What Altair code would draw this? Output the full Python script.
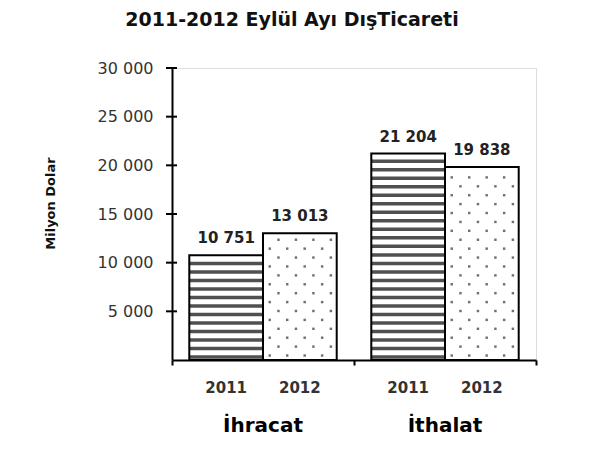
import altair as alt
import pandas as pd

title_text = "2011-2012 Eylül Ayı  DışTicareti"
groups = ["İhracat", "İthalat"]
years = ["2011", "2012"]
values_2011 = [10751, 21204]
values_2012 = [13013, 19838]
y_ticks = [5000, 10000, 15000, 20000, 25000, 30000]
y_title = "Milyon Dolar"

rows = []
for gi, g in enumerate(groups):
    for yr, vals in zip(years, [values_2011, values_2012]):
        rows.append({"group": g, "gi": gi, "year": yr, "value": vals[gi]})
bars_df = pd.DataFrame(rows)
groups_df = pd.DataFrame({"group": groups, "gi": list(range(len(groups)))})
ticks_df = pd.DataFrame({"t": y_ticks})

BW = 0.81
FONT = "DejaVu Sans"
xscale = alt.Scale(domain=[0, 2 * len(groups)], nice=False, zero=False)
yscale = alt.Scale(domain=[0, 30000], nice=False)

base = alt.Chart(bars_df).transform_calculate(
    x0=f"2*datum.gi + 1 + (datum.year == '{years[0]}' ? -{BW} : 0)"
).transform_calculate(
    x1=f"datum.x0 + {BW}",
    xc=f"datum.x0 + {BW}/2",
    label="replace(format(datum.value, ','), ',', ' ')",
)

y_axis = alt.Axis(
    values=y_ticks,
    labelExpr="replace(format(datum.value, ','), ',', ' ')",
    ticks=False, labelPadding=19, labelFontSize=16, labelColor="#333",
    labelFont=FONT, domainColor="black", domainWidth=2, grid=False,
    title=y_title, titleX=-122, titleY=135, titleAngle=270,
    titleAlign="center", titleBaseline="middle", titleFontSize=13,
    titleFontWeight="bold", titleFont=FONT, titleColor="#111",
)
x_axis = alt.Axis(
    values=[0, 2, 4], labels=False, title=None, tickSize=5, tickWidth=2,
    tickColor="black", domainColor="black", domainWidth=2, grid=False,
)

fill = base.mark_rect(fill="white").encode(
    x=alt.X("x0:Q", scale=xscale, axis=x_axis),
    x2="x1:Q",
    y=alt.Y("value:Q", scale=yscale, axis=y_axis),
    y2=alt.datum(0),
)

stripes = base.transform_filter(f"datum.year == '{years[0]}'").transform_calculate(
    ys="sequence(300, datum.value - 250, 875)"
).transform_flatten(["ys"]).mark_rule(color="#505050", strokeWidth=3.5).encode(
    x=alt.X("x0:Q", scale=xscale), x2="x1:Q", y=alt.Y("ys:Q", scale=yscale)
)

dots = base.transform_filter(f"datum.year == '{years[1]}'").transform_calculate(
    ry="sequence(460, datum.value - 300, 915)"
).transform_flatten(["ry"]).transform_calculate(
    par="floor(datum.ry / 915) % 2"
).transform_calculate(
    cols="datum.par == 0 ? sequence(0.074, 0.8, 0.192) : sequence(0.17, 0.8, 0.192)"
).transform_flatten(["cols"]).transform_calculate(
    xd="datum.x0 + datum.cols"
).mark_square(size=6, color="#707070", opacity=1).encode(
    x=alt.X("xd:Q", scale=xscale), y=alt.Y("ry:Q", scale=yscale)
)

outline = base.mark_rect(fillOpacity=0, stroke="black", strokeWidth=2).encode(
    x=alt.X("x0:Q", scale=xscale), x2="x1:Q",
    y=alt.Y("value:Q", scale=yscale), y2=alt.datum(0),
)

vlabels = base.mark_text(
    baseline="bottom", dy=-9, fontSize=15, fontWeight="bold", color="#222", font=FONT
).encode(x=alt.X("xc:Q", scale=xscale), y=alt.Y("value:Q", scale=yscale), text="label:N")

ylabels = base.mark_text(
    baseline="middle", fontSize=15, fontWeight="bold", color="#333", font=FONT
).encode(x=alt.X("xc:Q", scale=xscale), y=alt.value(320), text="year:N")

glabels = alt.Chart(groups_df).transform_calculate(gx="2*datum.gi + 1").mark_text(
    baseline="middle", fontSize=20, fontWeight="bold", color="black", font=FONT
).encode(x=alt.X("gx:Q", scale=xscale), y=alt.value(358), text="group:N")

yticks = alt.Chart(ticks_df).mark_rule(color="black", strokeWidth=2).encode(
    x=alt.value(-6), x2=alt.value(5), y=alt.Y("t:Q", scale=yscale)
)

chart = alt.layer(
    fill, stripes, dots, outline, vlabels, ylabels, glabels, yticks
).properties(
    width=364, height=292, autosize="none",
    padding={"left": 164, "top": 60, "right": 40, "bottom": 78},
    title=alt.TitleParams(
        title_text, fontSize=19, fontWeight="bold", font=FONT, color="#111",
        anchor="middle", dx=-62, offset=30,
    ),
).configure_view(stroke=None).configure(background="white")

chart.save("out.html", embed_options={"renderer": "svg", "actions": False})
